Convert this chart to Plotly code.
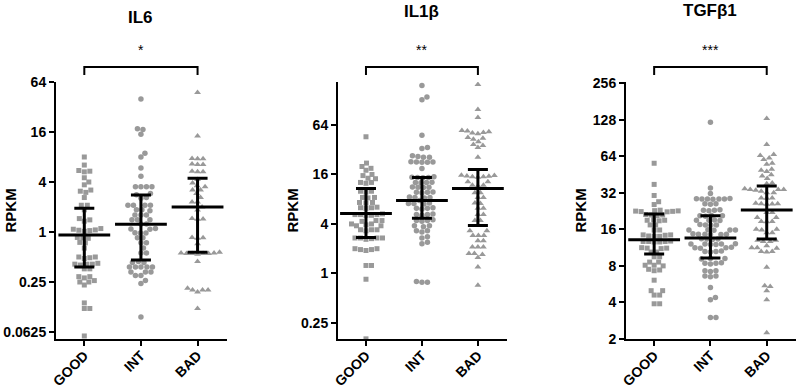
import numpy as np
import plotly.graph_objects as go

# ---------------- data ----------------
categories = ["GOOD", "INT", "BAD"]
panel_titles = ["IL6", "IL1β", "TGFβ1"]
significance = ["*", "**", "***"]

il6_good = [8.0, 6.4, 5.3, 5.4, 5.5, 4.5, 4.0, 3.7, 3.2, 3.1, 3.0, 2.6, 2.1, 2.1, 1.85,
            1.35, 1.4, 1.45, 1.02, 1.04, 1.05, 1.06, 1.08, 1.1, 0.84, 0.85, 0.86, 0.74,
            0.75, 0.64, 0.48, 0.49, 0.5, 0.5, 0.41, 0.41, 0.42, 0.4, 0.41, 0.36, 0.36,
            0.29, 0.29, 0.28, 0.25, 0.25, 0.26, 0.23, 0.14, 0.12, 0.12, 0.056]
il6_int = [40, 17.5, 17.2, 15, 8.9, 8.0, 5.9, 4.7, 3.5, 3.5, 3.5, 3.5, 2.9, 2.8, 2.6,
           2.55, 2.1, 2.1, 2.1, 2.1, 1.85, 1.85, 1.8, 1.6, 1.6, 1.6, 1.4, 1.4, 1.4, 1.25,
           1.25, 1.1, 1.08, 1.09, 0.97, 0.97, 0.98, 0.85, 0.85, 0.74, 0.74, 0.64, 0.56,
           0.56, 0.44, 0.43, 0.43, 0.38, 0.38, 0.38, 0.38, 0.38, 0.33, 0.33, 0.33, 0.3,
           0.3, 0.26, 0.24, 0.095]
il6_bad = [48, 14.3, 7.6, 7.6, 7.7, 6.5, 6.5, 6.6, 5.3, 5.3, 5.4, 4.3, 3.9, 3.6, 3.5,
           3.2, 3.2, 2.9, 2.6, 2.3, 2.3, 2.0, 1.84, 1.45, 1.43, 1.42, 0.86, 0.85, 0.84,
           0.72, 0.57, 0.56, 0.56, 0.55, 0.55, 0.55, 0.55, 0.54, 0.44, 0.2, 0.2, 0.19,
           0.2, 0.21, 0.12]

il1b_good = [46, 22, 20, 19, 18, 16, 15.5, 14.4, 14.2, 12.8, 12.8, 12.5, 10, 10, 9.8,
             8.4, 8.4, 8.3, 7.3, 7.3, 7.2, 6.3, 6.3, 6.2, 6.4, 5.2, 5.2, 5.1, 5.3, 5.2,
             5.1, 4.4, 4.4, 4.3, 4.0, 4.0, 3.9, 3.8, 3.8, 3.4, 3.4, 3.4, 3.3, 2.7, 2.7,
             2.7, 2.65, 2.7, 2.6, 2.0, 2.0, 1.95, 1.95, 1.9, 1.25, 1.25, 0.85, 0.16]
il1b_int = [194, 140, 130, 48, 34, 33, 27, 26.5, 26, 26, 22.7, 22.7, 22.5, 22.8, 22.6,
            18.9, 14.7, 14.8, 14.6, 14.7, 15, 12.8, 12.8, 12.7, 12.9, 11.2, 11.2, 11.3,
            11.1, 9.7, 9.7, 9.6, 9.8, 8.4, 8.4, 8.3, 8.5, 7.7, 7.1, 7.1, 7.0, 7.2, 6.2,
            6.2, 6.1, 6.3, 5.2, 5.2, 5.1, 5.3, 4.4, 4.4, 4.3, 4.5, 3.8, 3.8, 3.7, 3.3,
            3.3, 3.2, 2.8, 2.7, 2.4, 2.3, 0.78, 0.78, 0.8]
il1b_bad = [199, 99, 79, 54, 52, 53, 51, 55, 50, 44, 43, 45, 40, 37, 36, 34, 26, 15,
            15.2, 15.5, 15.6, 15, 14.8, 15.3, 13, 13, 11.8, 11.8, 11.6, 9.6, 9.6, 8.4,
            8.4, 7.1, 7.2, 6.2, 6.2, 5.2, 5.2, 4.4, 4.4, 3.84, 3.3, 3.3, 2.9, 2.9, 2.9,
            2.5, 2.5, 2.1, 2.1, 2.1, 1.75, 1.75, 1.7, 1.56, 1.2, 0.72]

tgfb1_good = [56, 37.5, 30.4, 27, 25.6, 22.6, 22.5, 22.8, 22.4, 22.7, 22.3, 23, 21, 21,
              20.8, 21.2, 19, 19, 19.2, 18.8, 17.4, 17.4, 15.8, 15.8, 14.4, 14.4, 14.3,
              14, 14, 14.1, 12.7, 12.7, 12.6, 12.8, 12.7, 12.6, 11.2, 11.2, 11.1, 11.3,
              10.4, 10.4, 9.5, 9.5, 8.6, 8.6, 8.1, 8.1, 8.0, 7.5, 7.4, 7.3, 6.1, 5.0,
              5.0, 4.6, 4.6, 3.9, 3.9]
tgfb1_int = [122, 35, 31.5, 28.5, 28.5, 28.6, 28.4, 28.7, 28.3, 28.5, 26, 26, 25.8, 23,
             23, 22.8, 23.2, 20.7, 20.7, 20.5, 20.8, 19, 19, 19.1, 18.9, 17.4, 17.4,
             17.3, 17.5, 15.8, 15.8, 15.7, 15.9, 15.8, 14.6, 14.6, 14.5, 14.7, 14.6,
             14.5, 13.3, 13.3, 13.2, 13.4, 12.1, 12.1, 12.0, 12.2, 12.1, 12.0, 11.3,
             11.3, 11.2, 11.4, 10.5, 10.5, 10.4, 10.6, 9.2, 9.2, 9.1, 8.4, 8.4, 8.3, 8.5,
             7.3, 7.3, 7.2, 6.6, 6.6, 6.5, 5.3, 4.4, 4.2, 3.0, 3.0]
tgfb1_bad = [131, 80, 66, 65, 62, 60, 56, 55, 49, 48, 50, 45, 44, 42, 38.5, 38, 34, 34,
             33.5, 34.5, 34, 33, 32, 32, 29, 29, 28.8, 26, 26, 25.8, 26.2, 25.9, 22, 22,
             20, 20, 18.6, 18.6, 18.5, 16, 16, 15.8, 15, 15, 13, 13, 12.7, 12.7, 11.7,
             11.3, 11.3, 11.2, 10.5, 10.5, 10.4, 7.8, 5.5, 5.4, 5.0, 4.2, 2.25]

# median and interquartile range, per group (GOOD, INT, BAD)
il6_median = [0.92, 1.24, 2.0]
il6_q1 = [0.38, 0.46, 0.57]
il6_q3 = [1.93, 2.79, 4.43]
il1b_median = [5.36, 7.7, 10.8]
il1b_q1 = [2.74, 4.7, 3.84]
il1b_q3 = [10.8, 14.7, 18.4]
tgfb1_median = [13.1, 13.6, 23.1]
tgfb1_q1 = [10.0, 9.3, 13.3]
tgfb1_q3 = [21.4, 20.7, 36.3]

il6_ticks = [0.0625, 0.25, 1, 4, 16, 64]
il6_ticklabels = ["0.0625", "0.25", "1", "4", "16", "64"]
il1b_ticks = [0.25, 1, 4, 16, 64]
il1b_ticklabels = ["0.25", "1", "4", "16", "64"]
tgfb1_ticks = [2, 4, 8, 16, 32, 64, 128, 256]
tgfb1_ticklabels = ["2", "4", "8", "16", "32", "64", "128", "256"]

y_axis_label = "RPKM"

# ---------------- layout geometry ----------------
W, H = 799, 390
M_T, M_B = 82, 51
PLOT_H = H - M_T - M_B
x_domains = [(56 / W, 227 / W), (338 / W, 507 / W), (626 / W, 796 / W)]
x_range = [-0.5, 2.52]
y_ranges_log2 = [(-4.28, 6.0), (-2.65, 7.737), (1.0, 8.03)]
title_y_px = [17, 11, 10]

POINT_COLOR = "#999999"
symbols = ["square", "circle", "triangle-up"]
sizes = [5, 5.5, 6]
FONT = "Liberation Sans, Arial, sans-serif"

panels = [
    dict(groups=[il6_good, il6_int, il6_bad], med=il6_median, q1=il6_q1, q3=il6_q3,
         ticks=il6_ticks, labels=il6_ticklabels),
    dict(groups=[il1b_good, il1b_int, il1b_bad], med=il1b_median, q1=il1b_q1, q3=il1b_q3,
         ticks=il1b_ticks, labels=il1b_ticklabels),
    dict(groups=[tgfb1_good, tgfb1_int, tgfb1_bad], med=tgfb1_median, q1=tgfb1_q1,
         q3=tgfb1_q3, ticks=tgfb1_ticks, labels=tgfb1_ticklabels),
]


def swarm_offsets(values, px_per_log10, d):
    """Beeswarm layout: horizontal pixel offsets so markers do not overlap."""
    ys = np.log10(np.asarray(values, float)) * px_per_log10
    order = np.argsort(ys)
    offs = np.zeros(len(ys))
    placed = []
    cands = [0.0]
    for k in range(1, 200):
        cands += [k * 0.5, -k * 0.5]
    for i in order:
        y = ys[i]
        near = [(px, py) for px, py in placed if abs(py - y) < d]
        for c in cands:
            if all((c - px) ** 2 + (y - py) ** 2 >= d * d for px, py in near):
                offs[i] = c
                break
        placed.append((offs[i], y))
    return offs


fig = go.Figure()
annotations = []
shapes = []
plot_w_px = [(b - a) * W for a, b in x_domains]

for p, panel in enumerate(panels):
    xa = "x" if p == 0 else f"x{p + 1}"
    ya = "y" if p == 0 else f"y{p + 1}"
    lo2, hi2 = y_ranges_log2[p]
    lo10, hi10 = lo2 * np.log10(2), hi2 * np.log10(2)
    px_per_log10 = PLOT_H / (hi10 - lo10)
    px_per_x = plot_w_px[p] / (x_range[1] - x_range[0])

    for g, vals in enumerate(panel["groups"]):
        offs = swarm_offsets(vals, px_per_log10, 5.3)
        fig.add_trace(go.Scatter(
            x=g + offs / px_per_x, y=vals, mode="markers", xaxis=xa, yaxis=ya,
            marker=dict(symbol=symbols[g], size=sizes[g], color=POINT_COLOR,
                        line=dict(width=0)),
            showlegend=False, hoverinfo="y"))

    med = np.array(panel["med"])
    fig.add_trace(go.Scatter(
        x=list(range(len(categories))), y=med, mode="markers", xaxis=xa, yaxis=ya,
        marker=dict(symbol="line-ew", size=37, color="black",
                    line=dict(width=3, color="black")),
        error_y=dict(type="data", symmetric=False,
                     array=np.array(panel["q3"]) - med,
                     arrayminus=med - np.array(panel["q1"]),
                     width=10, thickness=3, color="black"),
        showlegend=False, hoverinfo="skip"))

    axis_common = dict(showline=True, linewidth=2, linecolor="black", ticks="outside",
                       ticklen=5, tickwidth=2, tickcolor="black", showgrid=False,
                       zeroline=False, mirror=False,
                       tickfont=dict(family=FONT, size=14, color="black"))
    fig.update_layout(**{
        ("xaxis" if p == 0 else f"xaxis{p + 1}"): dict(
            domain=list(x_domains[p]), range=x_range, anchor=ya,
            tickvals=list(range(len(categories))),
            ticktext=[f"<b>{c}</b>" for c in categories], tickangle=-45,
            ticklabelstandoff=-4,
            **axis_common),
        ("yaxis" if p == 0 else f"yaxis{p + 1}"): dict(
            domain=[0, 1], type="log", range=[lo10, hi10], anchor=xa,
            tickvals=panel["ticks"], ticktext=[f"<b>{t}</b>" for t in panel["labels"]],
            **axis_common),
    })

    # y-axis label
    annotations.append(dict(
        text=f"<b>{y_axis_label}</b>", xref=f"{xa} domain", yref=f"{ya} domain",
        x=0, y=0.5, xshift=-46, textangle=-90, showarrow=False,
        xanchor="center", yanchor="middle",
        font=dict(family=FONT, size=15, color="black")))
    # panel title
    annotations.append(dict(
        text=f"<b>{panel_titles[p]}</b>", xref=xa, yref="paper",
        x=1, y=(H - M_B - title_y_px[p]) / PLOT_H, showarrow=False,
        xanchor="center", yanchor="middle",
        font=dict(family=FONT, size=17, color="black")))
    # significance star
    annotations.append(dict(
        text=significance[p], xref=xa, yref="paper",
        x=1, y=(H - M_B - 50) / PLOT_H, showarrow=False,
        xanchor="center", yanchor="middle",
        font=dict(family=FONT, size=14, color="black")))
    # bracket GOOD -> BAD
    y_top = (H - M_B - 67) / PLOT_H
    y_end = (H - M_B - 75) / PLOT_H
    shapes.append(dict(
        type="path", xref=xa, yref="paper",
        path=f"M 0,{y_end} L 0,{y_top} L 2,{y_top} L 2,{y_end}",
        line=dict(color="black", width=2)))

fig.update_layout(
    width=W, height=H, margin=dict(l=0, r=0, t=M_T, b=M_B, autoexpand=False),
    paper_bgcolor="white", plot_bgcolor="white",
    annotations=annotations, shapes=shapes,
    font=dict(family=FONT, color="black"),
)

fig.write_html(
    "out.html",
    config={"displayModeBar": False},
    post_script="document.body.style.margin='0';document.body.style.overflow='hidden';",
)
